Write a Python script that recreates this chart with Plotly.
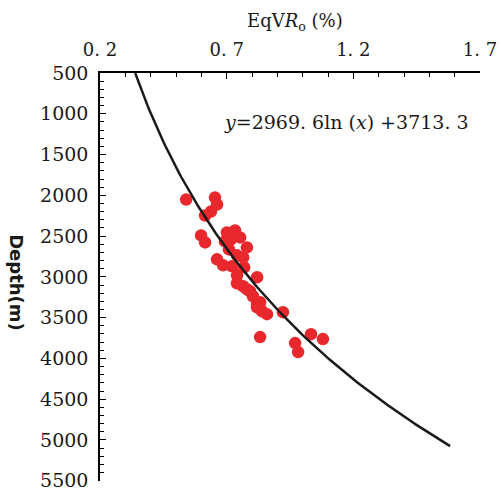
import numpy as np
import plotly.graph_objects as go

# Scatter data: EqVRo (%) and depth (m)
eqvro = [0.540, 0.654, 0.662, 0.638, 0.615, 0.599, 0.615, 0.701, 0.733, 0.753,
         0.717, 0.693, 0.780, 0.765, 0.741, 0.662, 0.686, 0.721, 0.741, 0.820,
         0.765, 0.792, 0.741, 0.780, 0.804, 0.820, 0.832, 0.840, 0.859, 0.820,
         0.922, 0.832, 0.970, 0.982, 1.033, 1.080, 0.709, 0.769]
depth = [2052, 2028, 2113, 2199, 2247, 2492, 2577, 2455, 2431, 2516,
         2541, 2565, 2639, 2761, 2736, 2785, 2858, 2871, 2981, 3005,
         3115, 3176, 3078, 3152, 3237, 3335, 3311, 3421, 3457, 3372,
         3433, 3738, 3812, 3922, 3702, 3763, 2663, 2883]

# Fitted trend: y = a ln(x) + b
fit_a = 2969.6
fit_b = 3713.3
fit_x_start = 0.339
fit_x_end = 1.582

x_ticks = [0.2, 0.7, 1.2, 1.7]
x_ticktext = ["0. 2", "0. 7", "1. 2", "1. 7"]
y_ticks = [500, 1000, 1500, 2000, 2500, 3000, 3500, 4000, 4500, 5000, 5500]

fx = np.linspace(fit_x_start, fit_x_end, 200)
fy = fit_a * np.log(fx) + fit_b

serif = "DejaVu Serif"

fig = go.Figure()
fig.add_trace(go.Scatter(x=eqvro, y=depth, mode="markers",
                         marker=dict(color="rgb(232,40,44)", size=12.5, line=dict(width=0)),
                         showlegend=False))
fig.add_trace(go.Scatter(x=fx, y=fy, mode="lines",
                         line=dict(color="#1a1a1a", width=2.5),
                         showlegend=False))

fig.update_layout(
    width=501, height=491,
    margin=dict(l=100, r=21, t=73, b=10),
    paper_bgcolor="white", plot_bgcolor="white",
    xaxis=dict(side="top", range=[0.2, 1.7], tickvals=x_ticks, ticktext=x_ticktext,
               automargin=False,
               ticks="inside", ticklen=6, tickwidth=1.2, tickcolor="black",
               showline=True, linecolor="black", linewidth=1.5, showgrid=False,
               zeroline=False, ticklabelstandoff=8,
               tickfont=dict(family=serif, size=18, color="#1a1a1a"),
               minor=dict(dtick=0.1, ticks="inside", ticklen=4, tickcolor="black", tickwidth=1)),
    yaxis=dict(range=[5503, 500], tickvals=y_ticks, ticklabeloverflow="allow",
               automargin=False,
               ticks="inside", ticklen=6, tickwidth=1.2, tickcolor="black",
               showline=True, linecolor="black", linewidth=1.5, showgrid=False,
               zeroline=False, ticklabelstandoff=6,
               tickfont=dict(family=serif, size=19, color="#1a1a1a"),
               minor=dict(dtick=100, ticks="inside", ticklen=4, tickcolor="black", tickwidth=1)),
    annotations=[
        dict(text="EqV<i>R</i><sub>o</sub> (%)", xref="paper", yref="paper",
             x=0.513, y=1.125, showarrow=False, xanchor="center", yanchor="middle",
             font=dict(family=serif, size=18, color="#1a1a1a")),
        dict(text="Depth(m)", xref="paper", yref="paper", x=-0.218, y=0.487,
             showarrow=False, textangle=90, xanchor="center", yanchor="middle",
             font=dict(family="DejaVu Sans", size=18, color="#1a1a1a", weight="bold")),
        dict(text="<i>y</i>=2969. 6ln (<i>x</i>) +3713. 3", xref="x", yref="y",
             x=0.68, y=1100, showarrow=False, xanchor="left", yanchor="middle",
             font=dict(family=serif, size=19, color="#1a1a1a")),
    ],
)

fig.write_html("out.html")
